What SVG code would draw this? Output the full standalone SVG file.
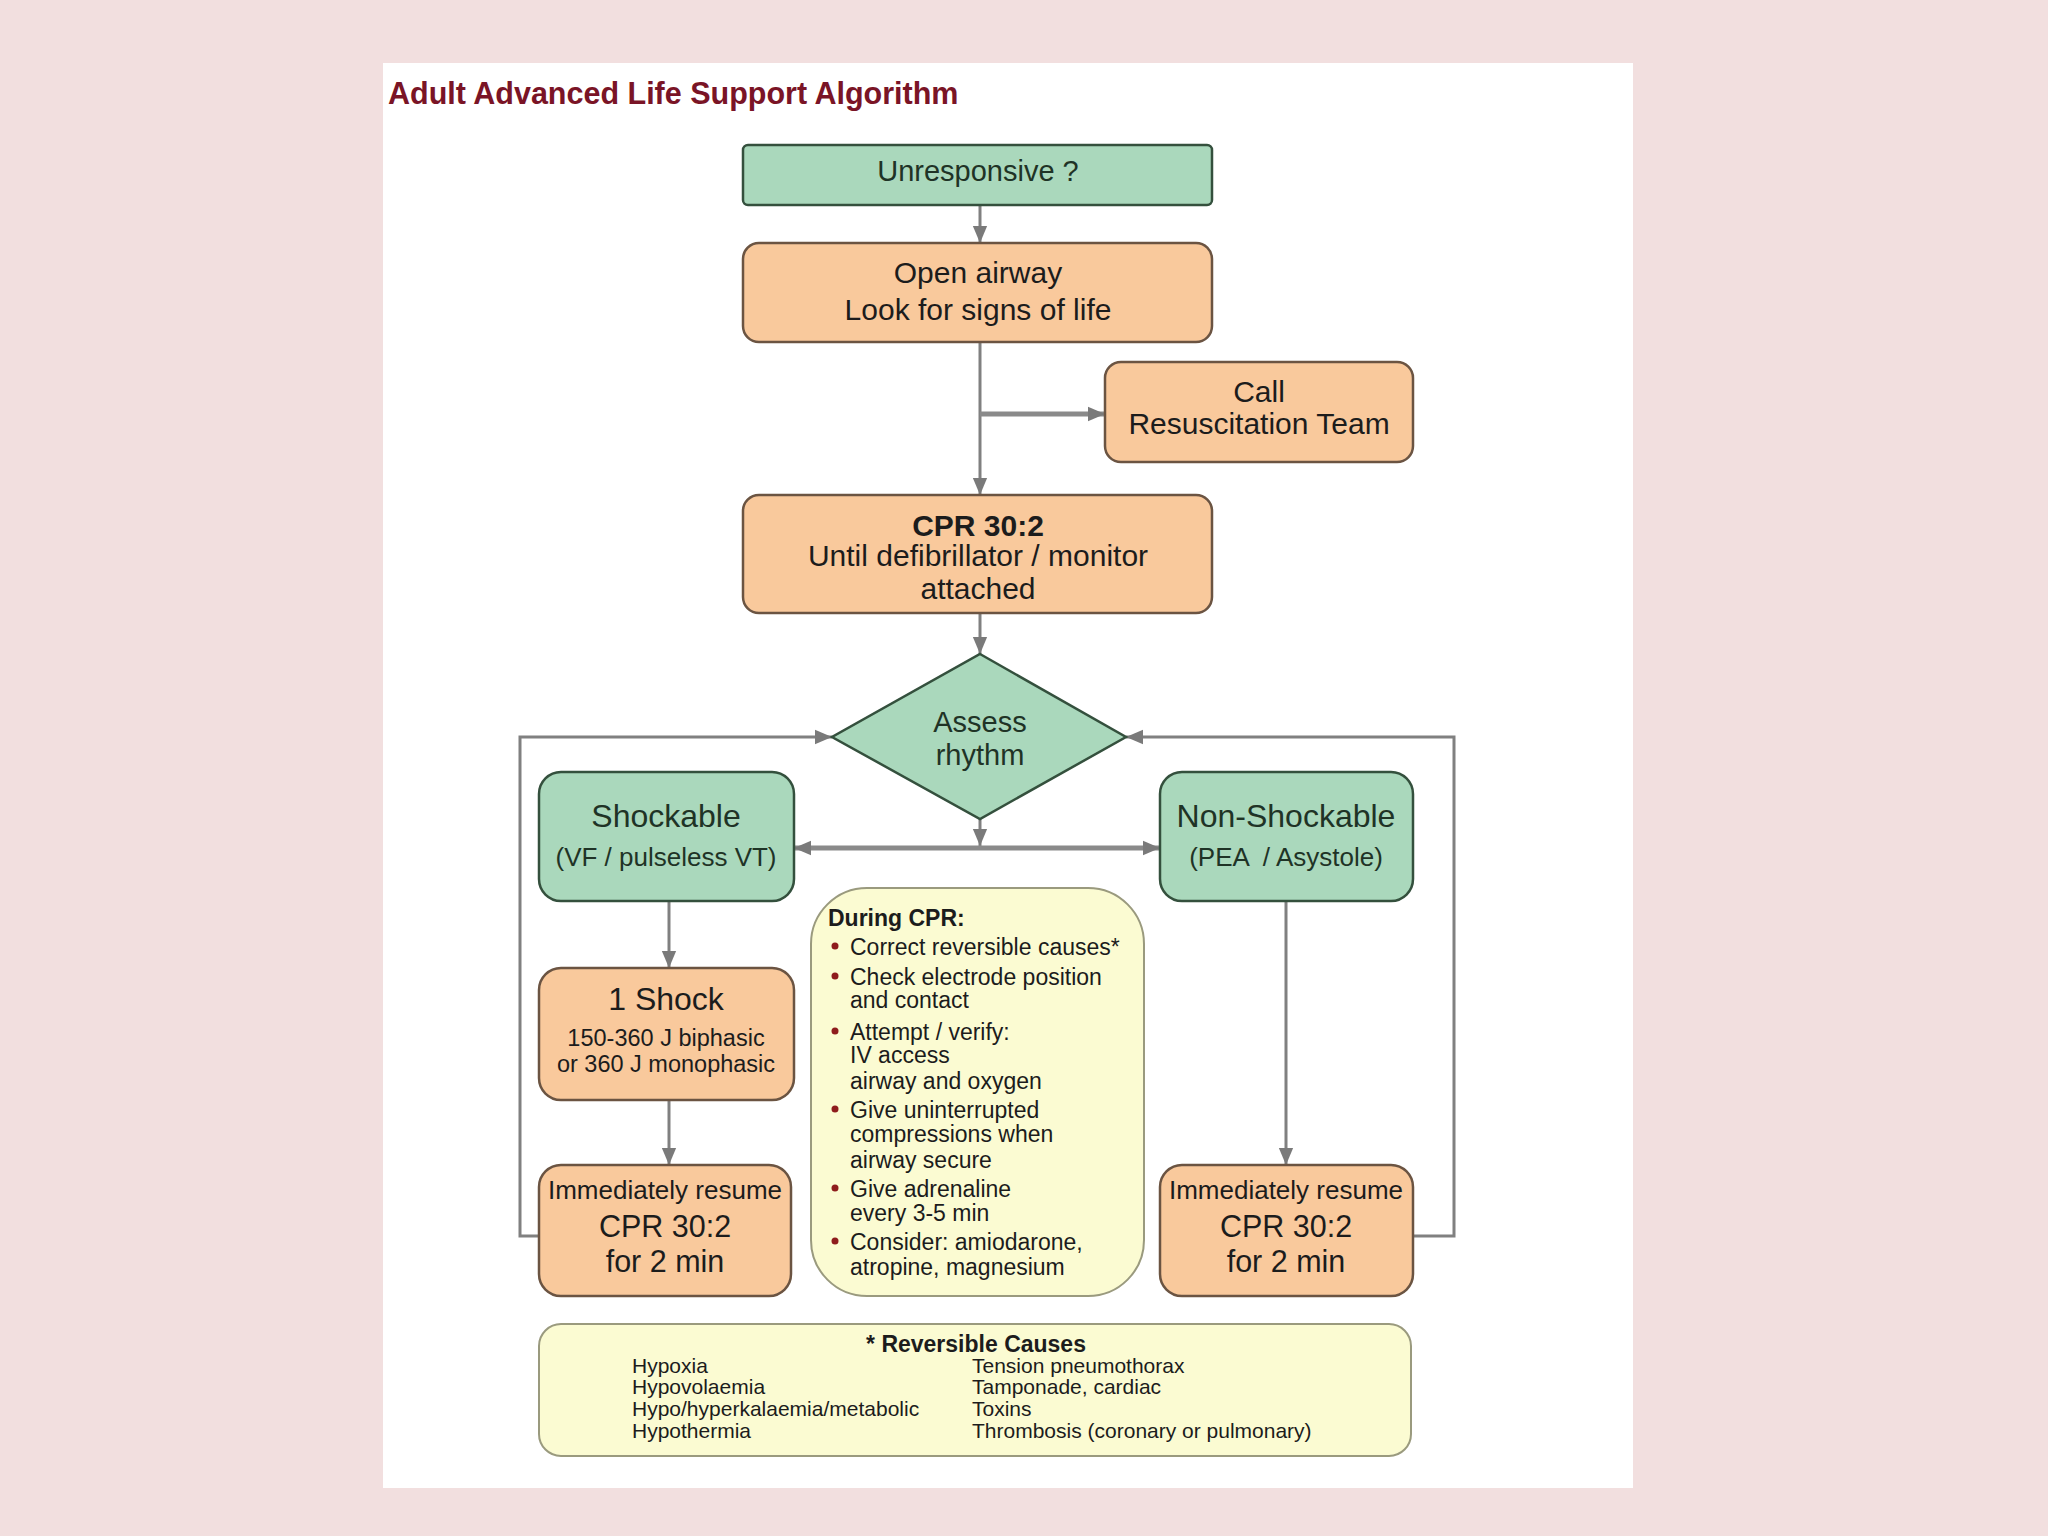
<svg xmlns="http://www.w3.org/2000/svg" width="2048" height="1536" viewBox="0 0 2048 1536">
<defs>
<style>
text{font-family:"Liberation Sans",Arial,sans-serif;fill:#1c1c1c;text-anchor:middle}
.g{fill:#aad8bc;stroke:#34503d;stroke-width:2.5}
.o{fill:#f9c99c;stroke:#6b5442;stroke-width:2.5}
.y{fill:#fbfbd2;stroke:#9a9a7e;stroke-width:2}
.gt{fill:#1f3326}
.c{fill:none;stroke:#808080;stroke-width:3}
.ct{fill:none;stroke:#8a8a8a;stroke-width:5}
.l{text-anchor:start}
.b{fill:#8e1c1c}
</style>
<marker id="ah" viewBox="0 0 10 10" refX="10" refY="5" markerWidth="17" markerHeight="17" markerUnits="userSpaceOnUse" orient="auto-start-reverse">
<path d="M0,0.8 L10,5 L0,9.2 z" fill="#7a7a7a"/>
</marker>
</defs>
<rect x="0" y="0" width="2048" height="1536" fill="#f2dfdf"/>
<rect x="383" y="63" width="1250" height="1425" fill="#ffffff"/>
<text x="388" y="104" style="font-weight:bold;font-size:30.5px;fill:#7a1426;text-anchor:start">Adult Advanced Life Support Algorithm</text>

<g id="connectors">
<path class="c" d="M980,205 V243" marker-end="url(#ah)"/>
<path class="c" d="M980,342 V495" marker-end="url(#ah)"/>
<path class="ct" d="M980,414 H1105" marker-end="url(#ah)"/>
<path class="c" d="M980,613 V654" marker-end="url(#ah)"/>
<path class="c" d="M980,819 V846" marker-end="url(#ah)"/>
<path class="ct" d="M794,848 H1160" marker-start="url(#ah)" marker-end="url(#ah)"/>
<path class="c" d="M669,901 V968" marker-end="url(#ah)"/>
<path class="c" d="M669,1100 V1165" marker-end="url(#ah)"/>
<path class="c" d="M1286,901 V1165" marker-end="url(#ah)"/>
<path class="c" d="M539,1236 H520 V737 H832" marker-end="url(#ah)"/>
<path class="c" d="M1413,1236 H1454 V737 H1126" marker-end="url(#ah)"/>
</g>

<g id="unresponsive">
<rect class="g" x="743" y="145" width="469" height="60" rx="5"/>
<text class="gt" x="978" y="181" style="font-size:29px">Unresponsive ?</text>
</g>

<g id="open-airway">
<rect class="o" x="743" y="243" width="469" height="99" rx="16"/>
<text x="978" y="283" style="font-size:30px">Open airway</text>
<text x="978" y="320" style="font-size:30px">Look for signs of life</text>
</g>

<g id="call-team">
<rect class="o" x="1105" y="362" width="308" height="100" rx="16"/>
<text x="1259" y="402" style="font-size:30px">Call</text>
<text x="1259" y="434" style="font-size:30px">Resuscitation Team</text>
</g>

<g id="cpr">
<rect class="o" x="743" y="495" width="469" height="118" rx="16"/>
<text x="978" y="536" style="font-size:30px;font-weight:bold">CPR 30:2</text>
<text x="978" y="566" style="font-size:30px">Until defibrillator / monitor</text>
<text x="978" y="599" style="font-size:30px">attached</text>
</g>

<g id="assess">
<path class="g" d="M980,654 L1126,737 L980,819 L832,737 z"/>
<text class="gt" x="980" y="732" style="font-size:29px">Assess</text>
<text class="gt" x="980" y="765" style="font-size:29px">rhythm</text>
</g>

<g id="shockable">
<rect class="g" x="539" y="772" width="255" height="129" rx="22"/>
<text class="gt" x="666" y="827" style="font-size:32px">Shockable</text>
<text class="gt" x="666" y="866" style="font-size:26px">(VF / pulseless VT)</text>
</g>

<g id="non-shockable">
<rect class="g" x="1160" y="772" width="253" height="129" rx="22"/>
<text class="gt" x="1286" y="827" style="font-size:32px">Non-Shockable</text>
<text class="gt" x="1286" y="866" style="font-size:26px;white-space:pre">(PEA  / Asystole)</text>
</g>

<g id="shock">
<rect class="o" x="539" y="968" width="255" height="132" rx="22"/>
<text x="666" y="1010" style="font-size:32px">1 Shock</text>
<text x="666" y="1046" style="font-size:23.5px">150-360 J biphasic</text>
<text x="666" y="1072" style="font-size:23.5px">or 360 J monophasic</text>
</g>

<g id="resume-left">
<rect class="o" x="539" y="1165" width="252" height="131" rx="22"/>
<text x="665" y="1199" style="font-size:26px">Immediately resume</text>
<text x="665" y="1237" style="font-size:30.5px">CPR 30:2</text>
<text x="665" y="1272" style="font-size:30.5px">for 2 min</text>
</g>

<g id="resume-right">
<rect class="o" x="1160" y="1165" width="253" height="131" rx="22"/>
<text x="1286" y="1199" style="font-size:26px">Immediately resume</text>
<text x="1286" y="1237" style="font-size:30.5px">CPR 30:2</text>
<text x="1286" y="1272" style="font-size:30.5px">for 2 min</text>
</g>

<g id="during-cpr">
<rect class="y" x="811" y="888" width="333" height="408" rx="56"/>
<text class="l" x="828" y="926" style="font-size:23px;font-weight:bold">During CPR:</text>
<circle class="b" cx="835" cy="946" r="3.5"/>
<text class="l" x="850" y="955" style="font-size:23px">Correct reversible causes*</text>
<circle class="b" cx="835" cy="976" r="3.5"/>
<text class="l" x="850" y="985" style="font-size:23px">Check electrode position</text>
<text class="l" x="850" y="1008" style="font-size:23px">and contact</text>
<circle class="b" cx="835" cy="1031" r="3.5"/>
<text class="l" x="850" y="1040" style="font-size:23px">Attempt / verify:</text>
<text class="l" x="850" y="1063" style="font-size:23px">IV access</text>
<text class="l" x="850" y="1089" style="font-size:23px">airway and oxygen</text>
<circle class="b" cx="835" cy="1109" r="3.5"/>
<text class="l" x="850" y="1118" style="font-size:23px">Give uninterrupted</text>
<text class="l" x="850" y="1142" style="font-size:23px">compressions when</text>
<text class="l" x="850" y="1168" style="font-size:23px">airway secure</text>
<circle class="b" cx="835" cy="1188" r="3.5"/>
<text class="l" x="850" y="1197" style="font-size:23px">Give adrenaline</text>
<text class="l" x="850" y="1221" style="font-size:23px">every 3-5 min</text>
<circle class="b" cx="835" cy="1241" r="3.5"/>
<text class="l" x="850" y="1250" style="font-size:23px">Consider: amiodarone,</text>
<text class="l" x="850" y="1275" style="font-size:23px">atropine, magnesium</text>
</g>

<g id="reversible-causes">
<rect class="y" x="539" y="1324" width="872" height="132" rx="22"/>
<text x="976" y="1352" style="font-size:23px;font-weight:bold">* Reversible Causes</text>
<text class="l" x="632" y="1373" style="font-size:21px">Hypoxia</text>
<text class="l" x="632" y="1394" style="font-size:21px">Hypovolaemia</text>
<text class="l" x="632" y="1416" style="font-size:21px">Hypo/hyperkalaemia/metabolic</text>
<text class="l" x="632" y="1438" style="font-size:21px">Hypothermia</text>
<text class="l" x="972" y="1373" style="font-size:21px">Tension pneumothorax</text>
<text class="l" x="972" y="1394" style="font-size:21px">Tamponade, cardiac</text>
<text class="l" x="972" y="1416" style="font-size:21px">Toxins</text>
<text class="l" x="972" y="1438" style="font-size:21px">Thrombosis (coronary or pulmonary)</text>
</g>
</svg>
